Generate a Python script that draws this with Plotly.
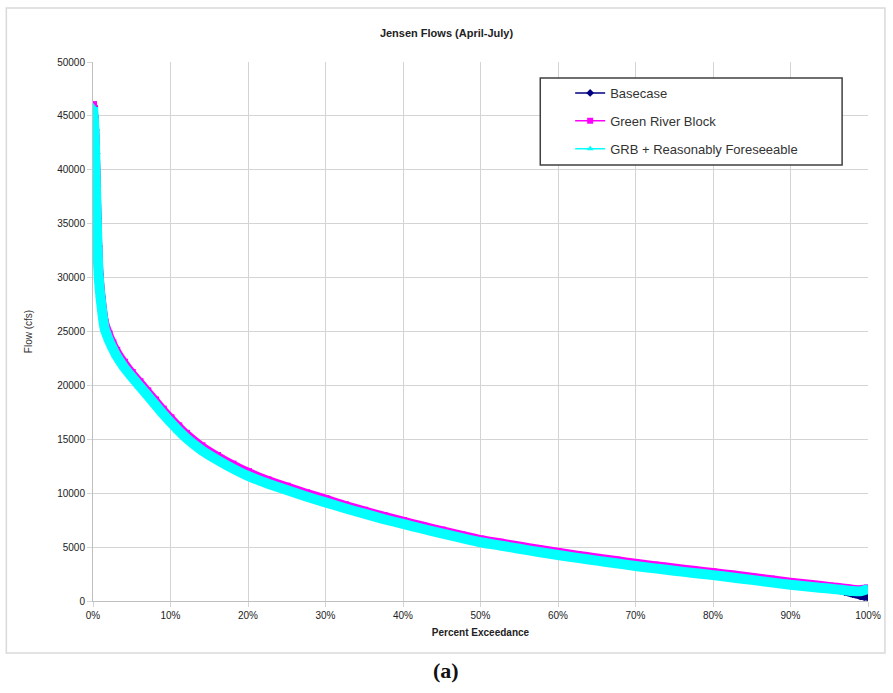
import plotly.graph_objects as go

# Percent exceedance (x) shared by all series
percent = [0, 0.1, 0.2, 0.3, 0.4, 0.5, 0.6, 0.75, 1, 1.5, 2, 2.5, 3, 4, 5, 6, 7, 8, 9, 10,
           11, 12, 14, 16, 18, 20, 22.5, 25, 27.5, 30, 32.5, 35, 37.5, 40, 42.5, 45, 47.5, 50,
           52.5, 55, 57.5, 60, 62.5, 65, 67.5, 70, 72.5, 75, 77.5, 80, 82.5, 85, 87.5, 90,
           92.5, 95, 96, 97, 98, 99, 99.5, 100]

basecase = [45900, 44900, 43700, 41500, 38500, 35500, 32900, 30300, 28200, 25500,
            24500, 23700, 23000, 21900, 20950, 20100, 19250, 18400, 17550, 16750,
            16000, 15300, 14150, 13250, 12450, 11750, 11030, 10430, 9830, 9280,
            8720, 8220, 7720, 7270, 6820, 6390, 5960, 5560, 5260, 4960,
            4660, 4380, 4110, 3860, 3610, 3360, 3140, 2920, 2710, 2510,
            2290, 2070, 1840, 1600, 1420, 1250, 1100, 950, 750, 550,
            480, 450]

green_river_block = [46000, 45000, 44000, 42000, 39000, 36000, 33300, 30700, 28500, 25800,
                     24750, 23900, 23200, 22100, 21150, 20300, 19450, 18600, 17750, 16950,
                     16200, 15500, 14350, 13450, 12650, 11950, 11200, 10600, 10000, 9450,
                     8880, 8370, 7870, 7420, 6960, 6530, 6100, 5700, 5400, 5100,
                     4800, 4520, 4250, 4000, 3750, 3500, 3280, 3060, 2850, 2650,
                     2430, 2210, 1980, 1750, 1550, 1350, 1270, 1180, 1100, 1050,
                     1100, 1150]

grb_reasonably_foreseeable = [45800, 44800, 43500, 41000, 38000, 35000, 32500, 30000, 28000, 25300,
                              24300, 23500, 22800, 21700, 20800, 19950, 19100, 18250, 17400, 16600,
                              15850, 15150, 14000, 13100, 12300, 11600, 10900, 10300, 9700, 9150,
                              8600, 8100, 7600, 7150, 6700, 6270, 5850, 5450, 5150, 4850,
                              4550, 4270, 4000, 3750, 3500, 3250, 3030, 2810, 2600, 2400,
                              2180, 1960, 1730, 1500, 1320, 1150, 1080, 1000, 920, 900,
                              1000, 1100]

series = [
    ("Basecase", basecase, "#000080", "diamond", 9),
    ("Green River Block", green_river_block, "#FF00FF", "square", 9),
    ("GRB + Reasonably Foreseeable", grb_reasonably_foreseeable, "#00FFFF", "triangle-up", 10),
]

x_ticks = [0, 10, 20, 30, 40, 50, 60, 70, 80, 90, 100]
x_tick_labels = ["0%", "10%", "20%", "30%", "40%", "50%", "60%", "70%", "80%", "90%", "100%"]
y_ticks = [0, 5000, 10000, 15000, 20000, 25000, 30000, 35000, 40000, 45000, 50000]

fig = go.Figure()
for name, vals, color, sym, band in series:
    # thick band imitating densely packed markers
    fig.add_trace(go.Scatter(
        x=percent, y=vals, mode="lines+markers", name=name,
        line=dict(color=color, width=band, shape="spline", smoothing=0.6),
        marker=dict(color=color, size=band - 1, symbol=sym),
        showlegend=False, legendgroup=name, hoverinfo="skip"))
    # thin line carrying the legend entry
    fig.add_trace(go.Scatter(
        x=percent, y=vals, mode="lines+markers", name=name,
        line=dict(color=color, width=1.5, shape="spline", smoothing=0.6),
        marker=dict(color=color, size=6, symbol=sym),
        showlegend=True, legendgroup=name))

grid = "#d4d4d4"
fig.update_layout(
    width=893, height=693,
    margin=dict(l=93, r=22, t=62, b=92),
    paper_bgcolor="white", plot_bgcolor="white",
    font=dict(family="Liberation Sans", color="#333333"),
    title=dict(text="<b>Jensen Flows (April-July)</b>", x=0.5, xanchor="center",
               y=1 - 33 / 693, yanchor="middle", font=dict(size=11, color="#222222")),
    showlegend=True,
    legend=dict(x=(572 - 93) / 778, y=(601 - 78) / 539, xanchor="left", yanchor="top",
                bgcolor="rgba(0,0,0,0)", borderwidth=0,
                font=dict(size=13, color="#333333"), itemwidth=30,
                tracegroupgap=8, traceorder="grouped"),
    xaxis=dict(range=[0, 100], tickvals=x_ticks, ticktext=x_tick_labels,
               showgrid=True, gridcolor=grid, gridwidth=1,
               showline=True, linecolor="#bfbfbf", linewidth=1,
               ticks="outside", ticklen=5, tickcolor=grid,
               tickfont=dict(size=10, color="#222222"), zeroline=False,
               title=dict(text="<b>Percent Exceedance</b>", font=dict(size=10, color="#222222"),
                          standoff=8)),
    yaxis=dict(range=[0, 50000], tickvals=y_ticks, tickformat="d",
               showgrid=True, gridcolor=grid, gridwidth=1,
               showline=True, linecolor="#bfbfbf", linewidth=1,
               ticks="outside", ticklen=5, tickcolor=grid,
               tickfont=dict(size=10, color="#222222"), zeroline=False,
               title=dict(text="Flow (cfs)", font=dict(size=10, color="#333333"), standoff=22)),
    shapes=[
        # outer chart border
        dict(type="rect", xref="paper", yref="paper",
             x0=(6 - 93) / 778, x1=(888 - 93) / 778,
             y0=(601 - 653) / 539, y1=(601 - 8) / 539,
             line=dict(color="#d9d9d9", width=1.5), fillcolor="rgba(0,0,0,0)", layer="below"),
        # legend box
        dict(type="rect", xref="paper", yref="paper",
             x0=(542 - 93) / 778, x1=(845 - 93) / 778,
             y0=(601 - 165) / 539, y1=(601 - 78) / 539,
             line=dict(color="#404040", width=1.5), fillcolor="white", layer="above"),
    ],
    annotations=[
        dict(text="<b>(a)</b>", xref="paper", yref="paper",
             x=(447 - 93) / 778, y=(601 - 670) / 539, showarrow=False,
             xanchor="center", yanchor="middle",
             font=dict(family="Liberation Serif", size=22, color="#111111")),
    ],
)

fig.write_html("out.html")
